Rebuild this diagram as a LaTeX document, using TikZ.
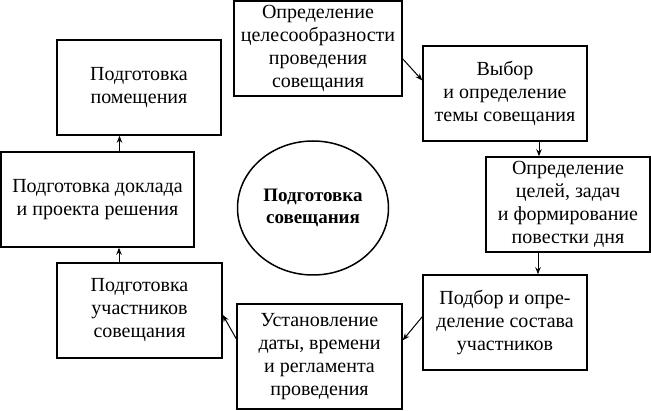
\documentclass[tikz,border=0pt]{standalone}
\usepackage{fontspec}
\setmainfont{Liberation Serif}
\usetikzlibrary{arrows.meta,shapes}

\begin{document}
\begin{tikzpicture} [x=1pt,y=-1pt,
    stage/.style={draw,line width=1.5pt,rectangle,align=center,inner sep=0pt,
        minimum width=164pt,minimum height=95pt,
        font=\fontsize{20}{23}\selectfont},
    link/.style={-{Stealth[length=7pt,width=5.5pt]},line width=1pt}]
    \useasboundingbox (0,0) rectangle (651,411);

    \node[stage,minimum width=168pt] (purpose) at (318,48.5) {Определение\\целесообразности\\проведения\\совещания};
    \node[stage] (topic) at (505,93.5) {Выбор\\и определение\\темы совещания};
    \node[stage] (agenda) at (568,204.5) {Определение\\целей, задач\\и формирование\\повестки дня};
    \node[stage] (staff) at (505,322.5) {Подбор и опре-\\деление состава\\участников};
    \node[stage,minimum width=165pt,minimum height=105pt] (schedule) at (319.5,356.5) {Установление\\даты, времени\\и регламента\\проведения};
    \node[stage,minimum width=165pt] (members) at (139.5,310.5) {Подготовка\\участников\\совещания};
    \node[stage,minimum width=193pt] (report) at (97.5,199.5) {Подготовка доклада\\и проекта решения};
    \node[stage] (room) at (139,87.5) {Подготовка\\помещения};
    \node[draw,line width=1.5pt,ellipse,inner sep=0pt,minimum width=151pt,minimum height=134pt,
        align=center,font=\fontsize{19}{22}\selectfont\bfseries] (meeting) at (313,208) {Подготовка\\совещания};

    \path (purpose.-7) edge [link] (topic.171);
    \path ([xshift=34pt]topic.south) edge [link] ([xshift=34pt]topic.south |- agenda.north);
    \path ([xshift=-30pt]agenda.south) edge [link] ([xshift=-30pt]agenda.south |- staff.north);
    \path (staff.176) edge [link] (schedule.11);
    \path (schedule.168) edge [link] (members.-3);
    \path ([xshift=-20.5pt]members.north) edge [link] ([xshift=-20.5pt]members.north |- report.south);
    \path ([xshift=22pt]report.north) edge [link] ([xshift=22pt]report.north |- room.south);
\end{tikzpicture}
\end{document}
